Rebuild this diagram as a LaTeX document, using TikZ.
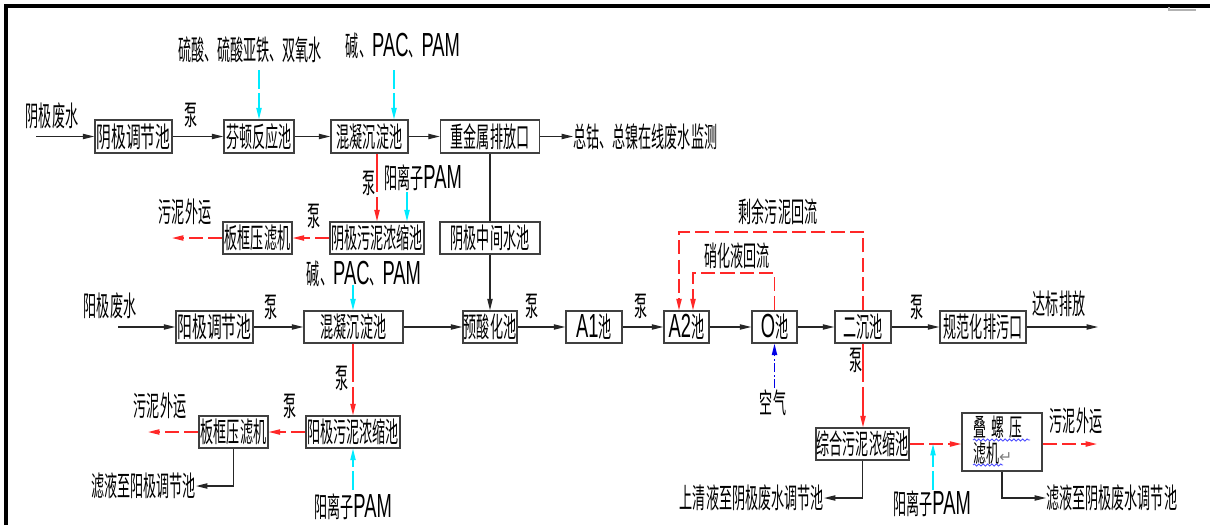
\documentclass[tikz,border=0pt]{standalone}
\usepackage{fontspec}
\newfontfamily\cjk[FakeStretch=0.465]{Noto Sans CJK SC}
\newfontfamily\cjkw[FakeStretch=0.525]{Noto Sans CJK SC}
\newfontfamily\pamf[FakeStretch=0.55]{Liberation Sans}
\newfontfamily\symf{DejaVu Sans}
\newcommand\bigsans[1]{{\pamf\fontsize{19pt}{20pt}\selectfont #1}}
\usetikzlibrary{arrows.meta,decorations.pathmorphing}
\definecolor{rd}{RGB}{255,40,40}
\definecolor{cy}{RGB}{0,235,255}
\definecolor{bl}{RGB}{0,0,230}
\begin{document}
\begin{tikzpicture}[x=0.02cm,y=-0.02cm,
  every node/.style={font=\cjk\fontsize{16pt}{18pt}\selectfont, inner sep=0pt},
  bx/.style={draw=black!75, line width=0.8pt, minimum height=33*0.02cm},
  bw/.style={minimum width=#1*0.02cm},
  bh/.style={minimum height=#1*0.02cm},
  wide/.style={font=\cjkw\fontsize{16pt}{18pt}\selectfont},
  small/.style={font=\cjkw\fontsize{14pt}{16pt}\selectfont},
  tip/.style={-{Triangle[length=6.5pt,width=3pt]}},
  plain/.style={draw=black!85, line width=0.7pt},
  flow/.style={tip, plain},
  sludge/.style={tip, draw=rd, line width=0.8pt, dash pattern=on 8pt off 3pt},
  sludgev/.style={tip, draw=rd, line width=0.8pt, dash pattern=on 22pt off 2.5pt},
  chem/.style={tip, draw=cy, line width=0.8pt, dash pattern=on 11pt off 2pt},
  air/.style={tip, draw=bl, line width=0.8pt, dash pattern=on 5pt off 1.5pt on 1pt off 1.5pt},
  wavy/.style={blue!70, line width=0.5pt, decorate, decoration={snake, amplitude=0.6pt, segment length=2.5pt}}
]
\useasboundingbox (0,0) rectangle (1210,525);
% frame
\draw[line width=1.8pt] (6,525) -- (6,6) -- (1210,6);
\draw[black!30, line width=0.8pt] (1169,7) -- (1169,10) -- (1196,10);

% ---------- row 1 ----------
\node[bx,bw=77,wide] (c1) at (133.5,136.5) {阴极调节池};
\node[bx,bw=70] (c2) at (259,136.5) {芬顿反应池};
\node[bx,bw=77] (c3) at (369.5,136.5) {混凝沉淀池};
\node[bx,bw=99] (c4) at (490,136.5) {重金属排放口};
\node[anchor=west] (tmon) at (573,136.5) {总钴、总镍在线废水监测};
\node (l1) at (52,116) {阴极废水};
\node (p1lab) at (191,115) {泵};
\node (l3) at (250,50) {硫酸、硫酸亚铁、双氧水};
\node (l4) at (403,46) {碱、\bigsans{PAC}、\bigsans{PAM}};
\coordinate (s1) at (36,136.5);
\draw[flow] (s1) -- (c1);
\draw[flow] (c1) -- (c2);
\draw[flow] (c2) -- (c3);
\draw[flow] (c3) -- (c4);
\draw[flow] (c4) -- (tmon);
\coordinate (k1) at (259,70);
\draw[chem] (k1) -- (c2.north);
\coordinate (k2) at (394,70);
\draw[chem] (k2) -- (k2 |- c3.north);

% ---------- row 2 ----------
\node[bx,bw=94,bh=32] (c5) at (377,238) {阴极污泥浓缩池};
\node[bx,bw=69,bh=32] (c6) at (257.5,238) {板框压滤机};
\node[bx,bw=100,bh=32] (c7) at (490,238) {阴极中间水池};
\node (p2lab) at (369,183) {泵};
\node (l5) at (423,178) {阳离子\bigsans{PAM}};
\node (p3lab) at (314,216) {泵};
\node (l6a) at (185,212) {污泥外运};
\draw[sludgev] (c5.north |- c3.south) -- (c5.north);
\coordinate (k3) at (407,192);
\draw[chem] (k3) -- (k3 |- c5.north);
\draw[sludge] (c5) -- (c6);
\coordinate (o1) at (172,238);
\draw[sludge] (c6) -- (o1);
\draw[plain] (c4) -- (c7);

% ---------- row 3 ----------
\node[bx,bw=77,bh=32,wide] (a1) at (214.5,327) {阳极调节池};
\node[bx,bw=99,bh=32] (a2) at (353.5,327) {混凝沉淀池};
\node[bx,bw=54,bh=32] (pa) at (490,327) {预酸化池};
\node[bx,bw=56,bh=32] (ea1) at (594,327) {\bigsans{A1}池};
\node[bx,bw=45,bh=32] (ea2) at (686.5,327) {\bigsans{A2}池};
\node[bx,bw=45,bh=32] (eo) at (774.5,327) {\bigsans{O}池};
\node[bx,bw=56,bh=32] (e2) at (863,327) {二沉池};
\node[bx,bw=86,bh=32] (ex) at (983,327) {规范化排污口};
\node (l6) at (110,306) {阳极废水};
\node (p4lab) at (271,307) {泵};
\node (l7) at (364,274) {碱、\bigsans{PAC}、\bigsans{PAM}};
\node (p5lab) at (532,306) {泵};
\node (p6lab) at (641,306) {泵};
\node (p7lab) at (917,307) {泵};
\node (l8) at (1059,304) {达标排放};
\node (l9) at (778,212) {剩余污泥回流};
\node (l10) at (737,256) {硝化液回流};
\node (l11) at (773,403) {空气};
\coordinate (s2) at (118,327);
\draw[flow] (s2) -- (a1);
\draw[flow] (a1) -- (a2);
\draw[flow] (a2) -- (pa);
\draw[flow] (c7) -- (pa);
\draw[flow] (pa) -- (ea1);
\draw[flow] (ea1) -- (ea2);
\draw[flow] (ea2) -- (eo);
\draw[flow] (eo) -- (e2);
\draw[flow] (e2) -- (ex);
\coordinate (o2) at (1098,327);
\draw[flow] (ex) -- (o2);
\coordinate (k4) at (353,285);
\draw[chem] (k4) -- (k4 |- a2.north);
\coordinate (r2) at (679,232);
\draw[sludge] (e2.north) |- (r2) -- (r2 |- ea2.north);
\coordinate (r3) at (693,273);
\draw[sludge] (eo.north) |- (r3) -- (r3 |- ea2.north);
\coordinate (k5) at (774.5,388);
\draw[air] (k5) -- (eo.south);

% ---------- row 4 ----------
\node[bx,bw=94,bh=32] (a3) at (353,432) {阳极污泥浓缩池};
\node[bx,bw=69,bh=32] (a4) at (233.5,432) {板框压滤机};
\node[bx,bw=93,bh=32] (z1) at (862.5,444) {综合污泥浓缩池};
\node[bx,bw=80,bh=58] (z2) at (1002,442) {};
\node[anchor=west,small] (zt1) at (973,427) {叠\hspace{3pt}螺\hspace{3pt}压};
\node[anchor=west,small] (zt2) at (973,453) {滤机{\symf\fontsize{9pt}{10pt}\selectfont\color{gray}↵}};
\draw[wavy] (973,440) -- (1030,440);
\draw[wavy] (973,465) -- (1003,465);
\node (p8lab) at (342,378) {泵};
\node (p9lab) at (290,406) {泵};
\node (l12) at (160,406) {污泥外运};
\node[anchor=east] (lf1) at (196,486) {滤液至阳极调节池};
\node (l13) at (353,507) {阳离子\bigsans{PAM}};
\node (p10lab) at (856,360) {泵};
\node (l14) at (932,504) {阳离子\bigsans{PAM}};
\node (l15) at (1076,421) {污泥外运};
\node[anchor=west] (lf2) at (1046,498) {滤液至阴极废水调节池};
\node[anchor=east] (lf3) at (824,498) {上清液至阴极废水调节池};
\draw[sludgev] (a3.north |- a2.south) -- (a3.north);
\draw[sludge] (a3) -- (a4);
\coordinate (o4) at (148,432);
\draw[sludge] (a4) -- (o4);
\draw[flow] (a4.south) |- (lf1.east);
\coordinate (k7) at (353,490);
\draw[chem] (k7) -- (a3.south);
\draw[sludgev] (e2.south) -- (e2.south |- z1.north);
\draw[sludge] (z1.east) -- (z1.east -| z2.west);
\coordinate (k6) at (933,490);
\draw[chem] (k6) -- (k6 |- z1.east);
\coordinate (o3) at (1097,444);
\draw[sludge] (z2.east |- o3) -- (o3);
\draw[flow] (z2.south) |- (lf2.west);
\draw[flow] (z1.south) |- (lf3.east);
\end{tikzpicture}
\end{document}
